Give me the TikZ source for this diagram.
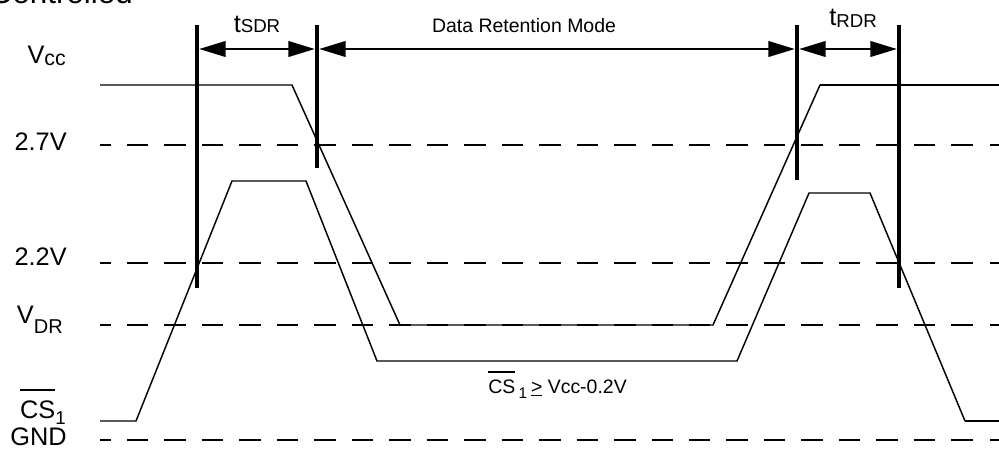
\documentclass[tikz,border=0pt]{standalone}
\usepackage{fontspec}
\setmainfont{Liberation Sans}
\usetikzlibrary{arrows.meta}
\newcommand\ovl[2]{\setbox0=\hbox{#2}\rlap{\rule[#1]{\wd0}{1.4pt}}\box0}
\newcommand\labf{\fontsize{19}{21}\selectfont}
\begin{document}
\begin{tikzpicture}[x=0.75pt,y=-0.75pt,
  sig/.style={line width=1.1pt, line join=miter},
  sigthick/.style={line width=1.8pt},
  lvl/.style={line width=1.1pt, dash pattern=on 16.1pt off 12pt},
  lvlend/.style={line width=2.2pt},
  vbar/.style={line width=3pt},
  dimarrow/.style={line width=2.2pt, shorten >=1.5pt, shorten <=1.5pt,
    {Triangle[length=20pt,width=11.5pt]}-{Triangle[length=20pt,width=11.5pt]}},
  lab/.style={font=\labf, inner sep=0pt, anchor=base east},
  small/.style={font=\fontsize{14.6}{16}\selectfont, inner sep=0pt}]
\useasboundingbox (0,0) rectangle (999,450);

% partially visible title
\node[inner sep=0pt, anchor=base east, font=\fontsize{23.5}{25}\selectfont] (title) at (133,3) {Controlled};

% level lines
\foreach \yy in {145, 263, 325, 440}{
  \draw[lvlend] (100,\yy) -- (111,\yy);
  \draw[lvl] (127,\yy) -- (975,\yy);
  \draw[lvlend] (990,\yy) -- (999,\yy);
}

% labels
\node[lab] (vcc) at (66,63) {V\raisebox{-1.5pt}{\fontsize{16}{17}\selectfont cc}};
\node[lab] (v27) at (67,150) {2.7V};
\node[lab] (v22) at (67,265) {2.2V};
\node[lab] (vdr) at (63,323) {V\raisebox{-7.5pt}{\fontsize{15}{16}\selectfont DR}};
\node[lab] (cs) at (66,418) {\ovl{20pt}{CS}\raisebox{-4.5pt}{\fontsize{14}{15}\selectfont 1}};
\node[lab] (gnd) at (67,445.5) {GND};

% signals
\draw[sig] (100,85) -- (292,85) -- (400,325) -- (713,325) -- (820,85);
\draw[sigthick] (820,85) -- (999,85);
\draw[sig] (100,421) -- (136,421) -- (232,181) -- (306,181) -- (377,361)
  -- (737,361) -- (809,193) -- (870,193) -- (965,421);
\draw[sigthick] (965,421) -- (999,421);

% vertical markers
\coordinate (v1) at (197,49);
\coordinate (v2) at (317,49);
\coordinate (v3) at (797,49);
\coordinate (v4) at (899,49);
\draw[vbar] (197,25) -- (197,288);
\draw[vbar] (317,25) -- (317,168);
\draw[vbar] (797,25) -- (797,180);
\draw[vbar] (899,25) -- (899,288);

% dimension arrows
\draw[dimarrow] (v1) -- (v2);
\draw[dimarrow] (v2) -- (v3);
\draw[dimarrow] (v3) -- (v4);

\node[inner sep=0pt, anchor=base, font=\fontsize{19}{21}\selectfont] (tsdr) at (257,32)
  {t\raisebox{-0.5pt}{\fontsize{14}{15}\selectfont SDR}};
\node[inner sep=0pt, anchor=base, font=\fontsize{19}{21}\selectfont] (trdr) at (853,25)
  {t\raisebox{-2.2pt}{\fontsize{14}{15}\selectfont RDR}};
\node[small, anchor=base] (drm) at (524,32) {Data Retention Mode};

\node[small, anchor=base west] (cond) at (488,393)
  {\ovl{15pt}{CS}\,\raisebox{-3.75pt}{\fontsize{11.5}{12}\selectfont 1}\hspace{3pt}\underline{>}\hspace{4pt}Vcc-0.2V};
\end{tikzpicture}
\end{document}
